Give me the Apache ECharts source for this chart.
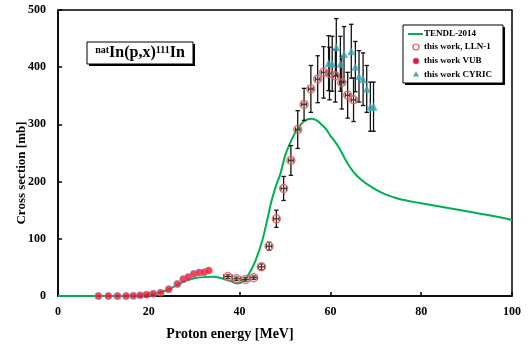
<!DOCTYPE html>
<html><head><meta charset="utf-8">
<script src="https://cdn.jsdelivr.net/npm/echarts@6/dist/echarts.min.js"></script>
<style>html,body{margin:0;padding:0;background:#fff}#c{width:529px;height:349px}</style>
</head><body><div id="c"></div>
<script>
// ---- data ----
const tendlX = [0,5,10,15,18,20,22,24,26,28,30,32,34,36,38,39.5,40.5,42,43.5,45,46,47,48,49,50,51,52,53,54,55,56,57,58,59,60,61,62,63,64,65,66,67,68,70,72,75,78,80,85,90,95,100];
const tendlY = [0,0,0,0.3,1,2.5,5,10,18,26,31,33,33.5,31,26,22,24,38,62,97,130,165,192,214,245,265,282,295,304,309,310,307,300,292,280,270,258,243,229,218,209,202,196,186,178,170,165,162,155,148,141,133];

const llnX = [37.4,39.3,41.3,43.1,44.8,46.5,48.1,49.7,51.3,52.8,54.2,55.7,57.2,58.5,59.8,61.1,62.5,63.8,65.1];
const llnY = [34,30,29,32,51,87,135,188,237,291,335,362,379,391,389,385,373,351,343];
const llnErr = [3,3,3,3,5,7,15,21,26,33,28,41,41,45,46,46,46,40,38];
const llnXErr = [0.9,0.9,0.9,0.8,0.7,0.6,0.6,0.6,0.5,0.5,0.5,0.5,0.5,0.5,0.5,0.5,0.5,0.5,0.5];

const vubX = [8.9,11.1,13.1,15.0,16.6,18.1,19.5,21.0,22.6,24.4,26.3,27.6,28.7,29.9,31.1,32.2,33.2];
const vubY = [0,0,0,0,0.3,1.2,2.3,4,5.8,12,21,29.5,33,38.5,41,41.5,44.5];

const cyricX = [59.6,60.4,61.3,62.2,63.0,64.6,65.5,66.3,67.2,68.0,68.8,69.5];
const cyricY = [407,406,435,406,423,428,401,384,379,362,331,331];
const cyricErr = [48,48,50,48,48,47,44,45,46,41,43,43];

const xTicks = [0,20,40,60,80,100];
const yTicks = [0,100,200,300,400,500];

// ---- chart ----
const FONT = '"Liberation Serif","Times New Roman",serif';
const chart = echarts.init(document.getElementById('c'));

function errSeries(xs, ys, es, xes, z) {
  return {
    type: 'custom', z: z, silent: true,
    data: xs.map((x, i) => [x, ys[i], es[i], xes ? xes[i] : 0]),
    encode: {x: 0, y: 1},
    renderItem: function (params, api) {
      const x = api.value(0), y = api.value(1), e = api.value(2), xe = api.value(3);
      const t = api.coord([x, y + e]), b = api.coord([x, y - e]);
      const st = {stroke: '#111', lineWidth: 1.3};
      const cap = 2.2;
      const ch = [
        {type: 'line', shape: {x1: t[0], y1: t[1], x2: b[0], y2: b[1]}, style: st},
        {type: 'line', shape: {x1: t[0]-cap, y1: t[1], x2: t[0]+cap, y2: t[1]}, style: st},
        {type: 'line', shape: {x1: b[0]-cap, y1: b[1], x2: b[0]+cap, y2: b[1]}, style: st}
      ];
      if (xe > 0) {
        const l = api.coord([x - xe, y]), r = api.coord([x + xe, y]);
        ch.push({type: 'line', shape: {x1: l[0], y1: l[1], x2: r[0], y2: r[1]}, style: st});
        ch.push({type: 'line', shape: {x1: l[0], y1: l[1]-cap, x2: l[0], y2: l[1]+cap}, style: st});
        ch.push({type: 'line', shape: {x1: r[0], y1: r[1]-cap, x2: r[0], y2: r[1]+cap}, style: st});
      }
      return {type: 'group', children: ch};
    }
  };
}

const axisLabel = {color: '#000', fontFamily: FONT, fontWeight: 'bold', fontSize: 12};

chart.setOption({
  animation: false,
  grid: {left: 58, right: 17, top: 10, bottom: 53, show: true, borderColor: '#000', borderWidth: 1.5, backgroundColor: 'transparent'},
  xAxis: {
    type: 'value', min: 0, max: 100, interval: 20,
    axisLine: {lineStyle: {color: '#000', width: 1.5}},
    axisTick: {inside: true, length: 4, lineStyle: {color: '#000', width: 1.5}},
    splitLine: {show: false},
    axisLabel: Object.assign({margin: 10, formatter: v => xTicks.includes(v) ? String(v) : ''}, axisLabel)
  },
  yAxis: {
    type: 'value', min: 0, max: 500, interval: 100,
    axisLine: {show: true, lineStyle: {color: '#000', width: 1.5}},
    axisTick: {show: true, inside: true, length: 4, lineStyle: {color: '#000', width: 1.5}},
    splitLine: {show: false},
    axisLabel: Object.assign({margin: 12, formatter: v => yTicks.includes(v) ? String(v) : ''}, axisLabel)
  },
  series: [
    {
      name: 'TENDL-2014', type: 'line', smooth: 0.3, showSymbol: false, z: 2,
      data: tendlX.map((x, i) => [x, tendlY[i]]),
      lineStyle: {color: '#00b050', width: 2}
    },
    errSeries(llnX, llnY, llnErr, llnXErr, 3),
    errSeries(cyricX, cyricY, cyricErr, null, 3),
    {
      name: 'this work, LLN-1', type: 'scatter', symbol: 'circle', symbolSize: 8, z: 4,
      data: llnX.map((x, i) => [x, llnY[i]]),
      itemStyle: {color: 'rgba(255,200,200,0.25)', borderColor: '#e05a5a', borderWidth: 1.5}
    },
    {
      name: 'this work VUB', type: 'scatter', symbol: 'circle', symbolSize: 7, z: 4,
      data: vubX.map((x, i) => [x, vubY[i]]),
      itemStyle: {color: '#ff1020', borderColor: '#8a7fc0', borderWidth: 1}
    },
    {
      name: 'this work CYRIC', type: 'scatter', symbol: 'triangle', symbolSize: 8, z: 5,
      data: cyricX.map((x, i) => [x, cyricY[i]]),
      itemStyle: {color: '#3aa6b4'}
    }
  ],
  graphic: [
    {type: 'text', x: 22, y: 173, rotation: Math.PI / 2,
     style: {text: 'Cross section [mb]', font: 'bold 13px ' + FONT, fill: '#000', align: 'center', verticalAlign: 'middle'}},
    {type: 'text', x: 230, y: 334,
     style: {text: 'Proton energy [MeV]', font: 'bold 14px ' + FONT, fill: '#000', align: 'center', verticalAlign: 'middle'}},
    // title box
    {type: 'rect', shape: {x: 89, y: 44, width: 106, height: 22}, style: {fill: '#000'}},
    {type: 'rect', shape: {x: 87, y: 42, width: 106, height: 22}, style: {fill: '#fff', stroke: '#000', lineWidth: 1}},
    {type: 'text', x: 140, y: 53,
     style: {text: '{s|nat}{m|In(p,x)}{s|111}{m|In}', align: 'center', verticalAlign: 'middle',
       rich: {
         s: {fontFamily: FONT, fontWeight: 'bold', fontSize: 10, fill: '#000', verticalAlign: 'top', padding: [0, 0, 6, 0]},
         m: {fontFamily: FONT, fontWeight: 'bold', fontSize: 16, fill: '#000', verticalAlign: 'bottom'}
       }}},
    // legend box
    {type: 'rect', shape: {x: 405, y: 27, width: 100, height: 58}, style: {fill: '#000'}},
    {type: 'rect', shape: {x: 403, y: 25, width: 100, height: 58}, style: {fill: '#fff', stroke: '#000', lineWidth: 1}},
    {type: 'line', shape: {x1: 408, y1: 34, x2: 423, y2: 34}, style: {stroke: '#00b050', lineWidth: 2}},
    {type: 'circle', shape: {cx: 416, cy: 47, r: 3}, style: {fill: '#fff', stroke: '#e05a5a', lineWidth: 1.2}},
    {type: 'circle', shape: {cx: 416, cy: 61, r: 3}, style: {fill: '#ff1020', stroke: '#8a7fc0', lineWidth: 0.8}},
    {type: 'polygon', shape: {points: [[416, 71.5], [419, 76.5], [413, 76.5]]}, style: {fill: '#3aa6b4'}},
    {type: 'text', x: 424, y: 34, style: {text: 'TENDL-2014', font: 'bold 9px ' + FONT, fill: '#000', verticalAlign: 'middle'}},
    {type: 'text', x: 424, y: 47, style: {text: 'this work, LLN-1', font: 'bold 9px ' + FONT, fill: '#000', verticalAlign: 'middle'}},
    {type: 'text', x: 424, y: 61, style: {text: 'this work VUB', font: 'bold 9px ' + FONT, fill: '#000', verticalAlign: 'middle'}},
    {type: 'text', x: 424, y: 74.5, style: {text: 'this work CYRIC', font: 'bold 9px ' + FONT, fill: '#000', verticalAlign: 'middle'}}
  ]
});
</script></body></html>
